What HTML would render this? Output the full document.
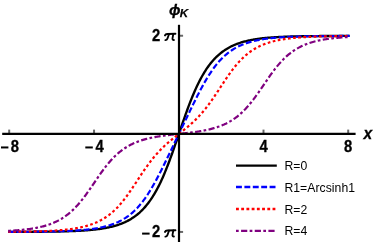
<!DOCTYPE html>
<html><head><meta charset="utf-8"><style>
html,body{margin:0;padding:0;background:#fff;}
body{width:374px;height:245px;overflow:hidden;position:relative;font-family:"Liberation Sans",sans-serif;}
svg{position:absolute;left:0;top:0;opacity:0.999;}
text{font-family:"Liberation Sans",sans-serif;}
</style></head><body>
<svg width="374" height="245" viewBox="0 0 374 245">
<path d="M8.15,231.88 L9.00,231.88 L9.86,231.87 L10.71,231.87 L11.56,231.87 L12.42,231.87 L13.27,231.87 L14.13,231.87 L14.98,231.86 L15.83,231.86 L16.69,231.86 L17.54,231.86 L18.39,231.85 L19.25,231.85 L20.10,231.85 L20.95,231.85 L21.81,231.84 L22.66,231.84 L23.52,231.84 L24.37,231.83 L25.22,231.83 L26.08,231.83 L26.93,231.82 L27.78,231.82 L28.64,231.81 L29.49,231.81 L30.34,231.81 L31.20,231.80 L32.05,231.80 L32.91,231.79 L33.76,231.79 L34.61,231.78 L35.47,231.77 L36.32,231.77 L37.17,231.76 L38.03,231.76 L38.88,231.75 L39.73,231.74 L40.59,231.74 L41.44,231.73 L42.29,231.72 L43.15,231.71 L44.00,231.70 L44.86,231.69 L45.71,231.69 L46.56,231.68 L47.42,231.67 L48.27,231.66 L49.12,231.64 L49.98,231.63 L50.83,231.62 L51.68,231.61 L52.54,231.60 L53.39,231.58 L54.25,231.57 L55.10,231.56 L55.95,231.54 L56.81,231.53 L57.66,231.51 L58.51,231.49 L59.37,231.47 L60.22,231.46 L61.07,231.44 L61.93,231.42 L62.78,231.40 L63.64,231.38 L64.49,231.35 L65.34,231.33 L66.20,231.31 L67.05,231.28 L67.90,231.25 L68.76,231.23 L69.61,231.20 L70.46,231.17 L71.32,231.14 L72.17,231.11 L73.03,231.07 L73.88,231.04 L74.73,231.00 L75.59,230.97 L76.44,230.93 L77.29,230.89 L78.15,230.84 L79.00,230.80 L79.85,230.75 L80.71,230.71 L81.56,230.66 L82.42,230.60 L83.27,230.55 L84.12,230.49 L84.98,230.43 L85.83,230.37 L86.68,230.31 L87.54,230.24 L88.39,230.18 L89.24,230.10 L90.10,230.03 L90.95,229.95 L91.81,229.87 L92.66,229.79 L93.51,229.70 L94.37,229.61 L95.22,229.51 L96.07,229.41 L96.93,229.31 L97.78,229.20 L98.63,229.09 L99.49,228.98 L100.34,228.86 L101.20,228.73 L102.05,228.60 L102.90,228.46 L103.76,228.32 L104.61,228.17 L105.46,228.02 L106.32,227.86 L107.17,227.69 L108.02,227.52 L108.88,227.34 L109.73,227.15 L110.58,226.95 L111.44,226.75 L112.29,226.54 L113.15,226.32 L114.00,226.09 L114.85,225.85 L115.71,225.60 L116.56,225.34 L117.41,225.07 L118.27,224.79 L119.12,224.50 L119.97,224.19 L120.83,223.87 L121.68,223.54 L122.54,223.20 L123.39,222.84 L124.24,222.47 L125.10,222.09 L125.95,221.68 L126.80,221.27 L127.66,220.83 L128.51,220.38 L129.36,219.91 L130.22,219.41 L131.07,218.90 L131.93,218.37 L132.78,217.82 L133.63,217.25 L134.49,216.65 L135.34,216.03 L136.19,215.38 L137.05,214.71 L137.90,214.01 L138.75,213.29 L139.61,212.54 L140.46,211.75 L141.32,210.94 L142.17,210.09 L143.02,209.22 L143.88,208.30 L144.73,207.36 L145.58,206.38 L146.44,205.36 L147.29,204.30 L148.14,203.20 L149.00,202.07 L149.85,200.89 L150.71,199.67 L151.56,198.40 L152.41,197.09 L153.27,195.74 L154.12,194.34 L154.97,192.89 L155.83,191.40 L156.68,189.85 L157.53,188.26 L158.39,186.61 L159.24,184.92 L160.10,183.18 L160.95,181.38 L161.80,179.53 L162.66,177.64 L163.51,175.69 L164.36,173.70 L165.22,171.65 L166.07,169.56 L166.92,167.43 L167.78,165.24 L168.63,163.02 L169.49,160.76 L170.34,158.45 L171.19,156.11 L172.05,153.74 L172.90,151.34 L173.75,148.91 L174.61,146.46 L175.46,143.98 L176.31,141.50 L177.17,139.00 L178.02,136.49 L178.88,133.97 L179.73,131.46 L180.58,128.95 L181.44,126.45 L182.29,123.96 L183.14,121.49 L184.00,119.03 L184.85,116.60 L185.70,114.20 L186.56,111.83 L187.41,109.48 L188.26,107.18 L189.12,104.91 L189.97,102.68 L190.83,100.50 L191.68,98.36 L192.53,96.27 L193.39,94.22 L194.24,92.22 L195.09,90.27 L195.95,88.37 L196.80,86.53 L197.65,84.73 L198.51,82.98 L199.36,81.28 L200.22,79.64 L201.07,78.04 L201.92,76.49 L202.78,74.99 L203.63,73.54 L204.48,72.14 L205.34,70.78 L206.19,69.47 L207.04,68.21 L207.90,66.98 L208.75,65.80 L209.61,64.66 L210.46,63.56 L211.31,62.50 L212.17,61.48 L213.02,60.50 L213.87,59.55 L214.73,58.64 L215.58,57.76 L216.43,56.91 L217.29,56.09 L218.14,55.31 L219.00,54.55 L219.85,53.83 L220.70,53.13 L221.56,52.46 L222.41,51.81 L223.26,51.19 L224.12,50.59 L224.97,50.01 L225.82,49.46 L226.68,48.93 L227.53,48.41 L228.39,47.92 L229.24,47.45 L230.09,47.00 L230.95,46.56 L231.80,46.14 L232.65,45.74 L233.51,45.35 L234.36,44.98 L235.21,44.62 L236.07,44.27 L236.92,43.94 L237.78,43.63 L238.63,43.32 L239.48,43.03 L240.34,42.75 L241.19,42.48 L242.04,42.22 L242.90,41.97 L243.75,41.73 L244.60,41.50 L245.46,41.28 L246.31,41.06 L247.17,40.86 L248.02,40.66 L248.87,40.47 L249.73,40.29 L250.58,40.12 L251.43,39.95 L252.29,39.79 L253.14,39.64 L253.99,39.49 L254.85,39.35 L255.70,39.21 L256.55,39.08 L257.41,38.95 L258.26,38.83 L259.12,38.71 L259.97,38.60 L260.82,38.50 L261.68,38.39 L262.53,38.29 L263.38,38.20 L264.24,38.11 L265.09,38.02 L265.94,37.93 L266.80,37.85 L267.65,37.78 L268.51,37.70 L269.36,37.63 L270.21,37.56 L271.07,37.49 L271.92,37.43 L272.77,37.37 L273.63,37.31 L274.48,37.25 L275.33,37.20 L276.19,37.15 L277.04,37.10 L277.90,37.05 L278.75,37.00 L279.60,36.96 L280.46,36.92 L281.31,36.88 L282.16,36.84 L283.02,36.80 L283.87,36.76 L284.72,36.73 L285.58,36.69 L286.43,36.66 L287.29,36.63 L288.14,36.60 L288.99,36.57 L289.85,36.55 L290.70,36.52 L291.55,36.50 L292.41,36.47 L293.26,36.45 L294.11,36.43 L294.97,36.40 L295.82,36.38 L296.68,36.36 L297.53,36.34 L298.38,36.33 L299.24,36.31 L300.09,36.29 L300.94,36.28 L301.80,36.26 L302.65,36.25 L303.50,36.23 L304.36,36.22 L305.21,36.20 L306.07,36.19 L306.92,36.18 L307.77,36.17 L308.63,36.16 L309.48,36.15 L310.33,36.13 L311.19,36.12 L312.04,36.12 L312.89,36.11 L313.75,36.10 L314.60,36.09 L315.45,36.08 L316.31,36.07 L317.16,36.07 L318.02,36.06 L318.87,36.05 L319.72,36.04 L320.58,36.04 L321.43,36.03 L322.28,36.03 L323.14,36.02 L323.99,36.01 L324.84,36.01 L325.70,36.00 L326.55,36.00 L327.41,36.00 L328.26,35.99 L329.11,35.99 L329.97,35.98 L330.82,35.98 L331.67,35.97 L332.53,35.97 L333.38,35.97 L334.23,35.96 L335.09,35.96 L335.94,35.96 L336.80,35.95 L337.65,35.95 L338.50,35.95 L339.36,35.95 L340.21,35.94 L341.06,35.94 L341.92,35.94 L342.77,35.94 L343.62,35.93 L344.48,35.93 L345.33,35.93 L346.19,35.93 L347.04,35.93 L347.89,35.93 L348.75,35.92 L349.60,35.92" fill="none" stroke="#000000" stroke-width="2.35"/>
<path d="M8.15,231.86 L9.00,231.86 L9.86,231.86 L10.71,231.85 L11.56,231.85 L12.42,231.85 L13.27,231.85 L14.13,231.84 L14.98,231.84 L15.83,231.84 L16.69,231.83 L17.54,231.83 L18.39,231.83 L19.25,231.82 L20.10,231.82 L20.95,231.82 L21.81,231.81 L22.66,231.81 L23.52,231.80 L24.37,231.80 L25.22,231.79 L26.08,231.79 L26.93,231.78 L27.78,231.78 L28.64,231.77 L29.49,231.76 L30.34,231.76 L31.20,231.75 L32.05,231.75 L32.91,231.74 L33.76,231.73 L34.61,231.72 L35.47,231.71 L36.32,231.71 L37.17,231.70 L38.03,231.69 L38.88,231.68 L39.73,231.67 L40.59,231.66 L41.44,231.65 L42.29,231.64 L43.15,231.63 L44.00,231.61 L44.86,231.60 L45.71,231.59 L46.56,231.58 L47.42,231.56 L48.27,231.55 L49.12,231.53 L49.98,231.52 L50.83,231.50 L51.68,231.48 L52.54,231.46 L53.39,231.45 L54.25,231.43 L55.10,231.41 L55.95,231.38 L56.81,231.36 L57.66,231.34 L58.51,231.32 L59.37,231.29 L60.22,231.27 L61.07,231.24 L61.93,231.21 L62.78,231.18 L63.64,231.15 L64.49,231.12 L65.34,231.09 L66.20,231.05 L67.05,231.02 L67.90,230.98 L68.76,230.94 L69.61,230.90 L70.46,230.86 L71.32,230.82 L72.17,230.77 L73.03,230.72 L73.88,230.68 L74.73,230.62 L75.59,230.57 L76.44,230.52 L77.29,230.46 L78.15,230.40 L79.00,230.34 L79.85,230.27 L80.71,230.20 L81.56,230.13 L82.42,230.06 L83.27,229.98 L84.12,229.90 L84.98,229.82 L85.83,229.73 L86.68,229.64 L87.54,229.55 L88.39,229.45 L89.24,229.35 L90.10,229.25 L90.95,229.14 L91.81,229.02 L92.66,228.90 L93.51,228.78 L94.37,228.65 L95.22,228.52 L96.07,228.38 L96.93,228.23 L97.78,228.08 L98.63,227.92 L99.49,227.76 L100.34,227.59 L101.20,227.41 L102.05,227.23 L102.90,227.04 L103.76,226.84 L104.61,226.63 L105.46,226.41 L106.32,226.19 L107.17,225.95 L108.02,225.71 L108.88,225.45 L109.73,225.19 L110.58,224.91 L111.44,224.63 L112.29,224.33 L113.15,224.02 L114.00,223.70 L114.85,223.36 L115.71,223.01 L116.56,222.65 L117.41,222.27 L118.27,221.88 L119.12,221.47 L119.97,221.05 L120.83,220.61 L121.68,220.15 L122.54,219.67 L123.39,219.18 L124.24,218.66 L125.10,218.13 L125.95,217.57 L126.80,217.00 L127.66,216.40 L128.51,215.78 L129.36,215.13 L130.22,214.47 L131.07,213.77 L131.93,213.05 L132.78,212.31 L133.63,211.54 L134.49,210.74 L135.34,209.91 L136.19,209.05 L137.05,208.17 L137.90,207.25 L138.75,206.30 L139.61,205.33 L140.46,204.32 L141.32,203.27 L142.17,202.20 L143.02,201.09 L143.88,199.95 L144.73,198.78 L145.58,197.58 L146.44,196.34 L147.29,195.07 L148.14,193.77 L149.00,192.43 L149.85,191.07 L150.71,189.67 L151.56,188.24 L152.41,186.79 L153.27,185.30 L154.12,183.79 L154.97,182.25 L155.83,180.69 L156.68,179.11 L157.53,177.50 L158.39,175.87 L159.24,174.22 L160.10,172.56 L160.95,170.88 L161.80,169.18 L162.66,167.47 L163.51,165.75 L164.36,164.02 L165.22,162.28 L166.07,160.53 L166.92,158.78 L167.78,157.02 L168.63,155.25 L169.49,153.49 L170.34,151.72 L171.19,149.94 L172.05,148.17 L172.90,146.39 L173.75,144.62 L174.61,142.84 L175.46,141.06 L176.31,139.28 L177.17,137.51 L178.02,135.73 L178.88,133.95 L179.73,132.17 L180.58,130.40 L181.44,128.62 L182.29,126.84 L183.14,125.06 L184.00,123.29 L184.85,121.51 L185.70,119.74 L186.56,117.96 L187.41,116.19 L188.26,114.42 L189.12,112.65 L189.97,110.88 L190.83,109.12 L191.68,107.37 L192.53,105.62 L193.39,103.88 L194.24,102.15 L195.09,100.43 L195.95,98.72 L196.80,97.02 L197.65,95.34 L198.51,93.67 L199.36,92.03 L200.22,90.40 L201.07,88.79 L201.92,87.20 L202.78,85.64 L203.63,84.10 L204.48,82.58 L205.34,81.10 L206.19,79.64 L207.04,78.21 L207.90,76.81 L208.75,75.45 L209.61,74.11 L210.46,72.81 L211.31,71.53 L212.17,70.29 L213.02,69.09 L213.87,67.91 L214.73,66.77 L215.58,65.66 L216.43,64.59 L217.29,63.54 L218.14,62.53 L219.00,61.55 L219.85,60.60 L220.70,59.69 L221.56,58.80 L222.41,57.94 L223.26,57.11 L224.12,56.31 L224.97,55.54 L225.82,54.79 L226.68,54.07 L227.53,53.37 L228.39,52.71 L229.24,52.06 L230.09,51.44 L230.95,50.84 L231.80,50.26 L232.65,49.70 L233.51,49.17 L234.36,48.65 L235.21,48.16 L236.07,47.68 L236.92,47.22 L237.78,46.78 L238.63,46.35 L239.48,45.95 L240.34,45.55 L241.19,45.17 L242.04,44.81 L242.90,44.46 L243.75,44.12 L244.60,43.80 L245.46,43.49 L246.31,43.19 L247.17,42.90 L248.02,42.63 L248.87,42.36 L249.73,42.11 L250.58,41.86 L251.43,41.63 L252.29,41.40 L253.14,41.19 L253.99,40.98 L254.85,40.78 L255.70,40.58 L256.55,40.40 L257.41,40.22 L258.26,40.05 L259.12,39.88 L259.97,39.73 L260.82,39.58 L261.68,39.43 L262.53,39.29 L263.38,39.16 L264.24,39.03 L265.09,38.90 L265.94,38.78 L266.80,38.67 L267.65,38.56 L268.51,38.45 L269.36,38.35 L270.21,38.25 L271.07,38.16 L271.92,38.07 L272.77,37.98 L273.63,37.90 L274.48,37.82 L275.33,37.75 L276.19,37.67 L277.04,37.60 L277.90,37.53 L278.75,37.47 L279.60,37.41 L280.46,37.35 L281.31,37.29 L282.16,37.23 L283.02,37.18 L283.87,37.13 L284.72,37.08 L285.58,37.03 L286.43,36.99 L287.29,36.94 L288.14,36.90 L288.99,36.86 L289.85,36.82 L290.70,36.78 L291.55,36.75 L292.41,36.71 L293.26,36.68 L294.11,36.65 L294.97,36.62 L295.82,36.59 L296.68,36.56 L297.53,36.54 L298.38,36.51 L299.24,36.49 L300.09,36.46 L300.94,36.44 L301.80,36.42 L302.65,36.40 L303.50,36.38 L304.36,36.36 L305.21,36.34 L306.07,36.32 L306.92,36.30 L307.77,36.29 L308.63,36.27 L309.48,36.25 L310.33,36.24 L311.19,36.23 L312.04,36.21 L312.89,36.20 L313.75,36.19 L314.60,36.17 L315.45,36.16 L316.31,36.15 L317.16,36.14 L318.02,36.13 L318.87,36.12 L319.72,36.11 L320.58,36.10 L321.43,36.09 L322.28,36.09 L323.14,36.08 L323.99,36.07 L324.84,36.06 L325.70,36.06 L326.55,36.05 L327.41,36.04 L328.26,36.04 L329.11,36.03 L329.97,36.02 L330.82,36.02 L331.67,36.01 L332.53,36.01 L333.38,36.00 L334.23,36.00 L335.09,35.99 L335.94,35.99 L336.80,35.98 L337.65,35.98 L338.50,35.98 L339.36,35.97 L340.21,35.97 L341.06,35.97 L341.92,35.96 L342.77,35.96 L343.62,35.96 L344.48,35.95 L345.33,35.95 L346.19,35.95 L347.04,35.95 L347.89,35.94 L348.75,35.94 L349.60,35.94" fill="none" stroke="#0000ff" stroke-width="2.2" stroke-dasharray="5.9,2.5"/>
<path d="M8.15,231.77 L9.00,231.76 L9.86,231.76 L10.71,231.75 L11.56,231.74 L12.42,231.74 L13.27,231.73 L14.13,231.72 L14.98,231.71 L15.83,231.70 L16.69,231.70 L17.54,231.69 L18.39,231.68 L19.25,231.67 L20.10,231.66 L20.95,231.65 L21.81,231.63 L22.66,231.62 L23.52,231.61 L24.37,231.60 L25.22,231.59 L26.08,231.57 L26.93,231.56 L27.78,231.54 L28.64,231.53 L29.49,231.51 L30.34,231.49 L31.20,231.48 L32.05,231.46 L32.91,231.44 L33.76,231.42 L34.61,231.40 L35.47,231.38 L36.32,231.36 L37.17,231.33 L38.03,231.31 L38.88,231.28 L39.73,231.26 L40.59,231.23 L41.44,231.20 L42.29,231.17 L43.15,231.14 L44.00,231.11 L44.86,231.08 L45.71,231.04 L46.56,231.01 L47.42,230.97 L48.27,230.93 L49.12,230.89 L49.98,230.85 L50.83,230.80 L51.68,230.76 L52.54,230.71 L53.39,230.66 L54.25,230.61 L55.10,230.56 L55.95,230.50 L56.81,230.44 L57.66,230.38 L58.51,230.32 L59.37,230.25 L60.22,230.18 L61.07,230.11 L61.93,230.04 L62.78,229.96 L63.64,229.88 L64.49,229.80 L65.34,229.71 L66.20,229.62 L67.05,229.52 L67.90,229.43 L68.76,229.32 L69.61,229.22 L70.46,229.11 L71.32,228.99 L72.17,228.87 L73.03,228.75 L73.88,228.62 L74.73,228.48 L75.59,228.34 L76.44,228.19 L77.29,228.04 L78.15,227.88 L79.00,227.71 L79.85,227.54 L80.71,227.36 L81.56,227.18 L82.42,226.98 L83.27,226.78 L84.12,226.57 L84.98,226.35 L85.83,226.12 L86.68,225.89 L87.54,225.64 L88.39,225.38 L89.24,225.12 L90.10,224.84 L90.95,224.55 L91.81,224.25 L92.66,223.94 L93.51,223.62 L94.37,223.28 L95.22,222.93 L96.07,222.56 L96.93,222.18 L97.78,221.79 L98.63,221.38 L99.49,220.96 L100.34,220.52 L101.20,220.06 L102.05,219.58 L102.90,219.09 L103.76,218.58 L104.61,218.04 L105.46,217.49 L106.32,216.92 L107.17,216.33 L108.02,215.71 L108.88,215.08 L109.73,214.42 L110.58,213.73 L111.44,213.03 L112.29,212.30 L113.15,211.54 L114.00,210.77 L114.85,209.96 L115.71,209.13 L116.56,208.28 L117.41,207.39 L118.27,206.49 L119.12,205.55 L119.97,204.59 L120.83,203.61 L121.68,202.60 L122.54,201.56 L123.39,200.50 L124.24,199.41 L125.10,198.30 L125.95,197.17 L126.80,196.02 L127.66,194.84 L128.51,193.65 L129.36,192.43 L130.22,191.20 L131.07,189.96 L131.93,188.70 L132.78,187.43 L133.63,186.15 L134.49,184.86 L135.34,183.56 L136.19,182.26 L137.05,180.96 L137.90,179.66 L138.75,178.35 L139.61,177.06 L140.46,175.76 L141.32,174.47 L142.17,173.20 L143.02,171.93 L143.88,170.67 L144.73,169.43 L145.58,168.20 L146.44,166.99 L147.29,165.79 L148.14,164.61 L149.00,163.46 L149.85,162.32 L150.71,161.20 L151.56,160.10 L152.41,159.02 L153.27,157.96 L154.12,156.92 L154.97,155.91 L155.83,154.91 L156.68,153.94 L157.53,152.99 L158.39,152.05 L159.24,151.14 L160.10,150.24 L160.95,149.37 L161.80,148.51 L162.66,147.67 L163.51,146.84 L164.36,146.04 L165.22,145.24 L166.07,144.46 L166.92,143.70 L167.78,142.95 L168.63,142.21 L169.49,141.48 L170.34,140.76 L171.19,140.05 L172.05,139.35 L172.90,138.65 L173.75,137.96 L174.61,137.28 L175.46,136.60 L176.31,135.93 L177.17,135.26 L178.02,134.59 L178.88,133.92 L179.73,133.25 L180.58,132.58 L181.44,131.91 L182.29,131.24 L183.14,130.56 L184.00,129.88 L184.85,129.19 L185.70,128.50 L186.56,127.79 L187.41,127.08 L188.26,126.37 L189.12,125.64 L189.97,124.90 L190.83,124.14 L191.68,123.38 L192.53,122.60 L193.39,121.81 L194.24,121.00 L195.09,120.18 L195.95,119.34 L196.80,118.48 L197.65,117.61 L198.51,116.71 L199.36,115.80 L200.22,114.87 L201.07,113.92 L201.92,112.94 L202.78,111.95 L203.63,110.94 L204.48,109.90 L205.34,108.84 L206.19,107.77 L207.04,106.67 L207.90,105.55 L208.75,104.41 L209.61,103.25 L210.46,102.08 L211.31,100.88 L212.17,99.67 L213.02,98.44 L213.87,97.20 L214.73,95.95 L215.58,94.68 L216.43,93.40 L217.29,92.11 L218.14,90.82 L219.00,89.52 L219.85,88.22 L220.70,86.92 L221.56,85.61 L222.41,84.31 L223.26,83.02 L224.12,81.73 L224.97,80.44 L225.82,79.17 L226.68,77.91 L227.53,76.67 L228.39,75.44 L229.24,74.22 L230.09,73.03 L230.95,71.85 L231.80,70.70 L232.65,69.56 L233.51,68.45 L234.36,67.37 L235.21,66.30 L236.07,65.26 L236.92,64.25 L237.78,63.26 L238.63,62.30 L239.48,61.37 L240.34,60.46 L241.19,59.58 L242.04,58.72 L242.90,57.89 L243.75,57.08 L244.60,56.30 L245.46,55.54 L246.31,54.81 L247.17,54.11 L248.02,53.42 L248.87,52.76 L249.73,52.12 L250.58,51.51 L251.43,50.91 L252.29,50.34 L253.14,49.79 L253.99,49.26 L254.85,48.74 L255.70,48.25 L256.55,47.77 L257.41,47.31 L258.26,46.87 L259.12,46.44 L259.97,46.03 L260.82,45.64 L261.68,45.26 L262.53,44.89 L263.38,44.54 L264.24,44.20 L265.09,43.88 L265.94,43.57 L266.80,43.27 L267.65,42.98 L268.51,42.70 L269.36,42.43 L270.21,42.17 L271.07,41.93 L271.92,41.69 L272.77,41.46 L273.63,41.24 L274.48,41.03 L275.33,40.83 L276.19,40.63 L277.04,40.45 L277.90,40.27 L278.75,40.10 L279.60,39.93 L280.46,39.77 L281.31,39.62 L282.16,39.47 L283.02,39.33 L283.87,39.19 L284.72,39.06 L285.58,38.94 L286.43,38.82 L287.29,38.70 L288.14,38.59 L288.99,38.48 L289.85,38.38 L290.70,38.28 L291.55,38.19 L292.41,38.10 L293.26,38.01 L294.11,37.92 L294.97,37.84 L295.82,37.77 L296.68,37.69 L297.53,37.62 L298.38,37.55 L299.24,37.49 L300.09,37.42 L300.94,37.36 L301.80,37.30 L302.65,37.25 L303.50,37.19 L304.36,37.14 L305.21,37.09 L306.07,37.04 L306.92,37.00 L307.77,36.95 L308.63,36.91 L309.48,36.87 L310.33,36.83 L311.19,36.80 L312.04,36.76 L312.89,36.72 L313.75,36.69 L314.60,36.66 L315.45,36.63 L316.31,36.60 L317.16,36.57 L318.02,36.54 L318.87,36.52 L319.72,36.49 L320.58,36.47 L321.43,36.45 L322.28,36.42 L323.14,36.40 L323.99,36.38 L324.84,36.36 L325.70,36.34 L326.55,36.32 L327.41,36.31 L328.26,36.29 L329.11,36.27 L329.97,36.26 L330.82,36.24 L331.67,36.23 L332.53,36.22 L333.38,36.20 L334.23,36.19 L335.09,36.18 L335.94,36.17 L336.80,36.15 L337.65,36.14 L338.50,36.13 L339.36,36.12 L340.21,36.11 L341.06,36.11 L341.92,36.10 L342.77,36.09 L343.62,36.08 L344.48,36.07 L345.33,36.06 L346.19,36.06 L347.04,36.05 L347.89,36.04 L348.75,36.04 L349.60,36.03" fill="none" stroke="#ff0000" stroke-width="2.2" stroke-dasharray="2.7,2.465"/>
<path d="M8.15,230.84 L9.00,230.79 L9.86,230.75 L10.71,230.70 L11.56,230.65 L12.42,230.60 L13.27,230.54 L14.13,230.49 L14.98,230.43 L15.83,230.37 L16.69,230.30 L17.54,230.24 L18.39,230.17 L19.25,230.10 L20.10,230.02 L20.95,229.94 L21.81,229.86 L22.66,229.78 L23.52,229.69 L24.37,229.60 L25.22,229.50 L26.08,229.41 L26.93,229.30 L27.78,229.19 L28.64,229.08 L29.49,228.97 L30.34,228.85 L31.20,228.72 L32.05,228.59 L32.91,228.45 L33.76,228.31 L34.61,228.16 L35.47,228.01 L36.32,227.85 L37.17,227.68 L38.03,227.51 L38.88,227.33 L39.73,227.14 L40.59,226.94 L41.44,226.74 L42.29,226.53 L43.15,226.31 L44.00,226.08 L44.86,225.84 L45.71,225.59 L46.56,225.33 L47.42,225.06 L48.27,224.78 L49.12,224.49 L49.98,224.19 L50.83,223.88 L51.68,223.55 L52.54,223.21 L53.39,222.86 L54.25,222.49 L55.10,222.11 L55.95,221.71 L56.81,221.30 L57.66,220.87 L58.51,220.43 L59.37,219.97 L60.22,219.49 L61.07,218.99 L61.93,218.48 L62.78,217.94 L63.64,217.39 L64.49,216.82 L65.34,216.22 L66.20,215.60 L67.05,214.96 L67.90,214.30 L68.76,213.62 L69.61,212.91 L70.46,212.18 L71.32,211.43 L72.17,210.65 L73.03,209.84 L73.88,209.01 L74.73,208.16 L75.59,207.28 L76.44,206.37 L77.29,205.44 L78.15,204.48 L79.00,203.50 L79.85,202.50 L80.71,201.47 L81.56,200.42 L82.42,199.34 L83.27,198.24 L84.12,197.12 L84.98,195.99 L85.83,194.83 L86.68,193.65 L87.54,192.46 L88.39,191.26 L89.24,190.04 L90.10,188.81 L90.95,187.57 L91.81,186.32 L92.66,185.07 L93.51,183.81 L94.37,182.55 L95.22,181.30 L96.07,180.04 L96.93,178.79 L97.78,177.55 L98.63,176.31 L99.49,175.09 L100.34,173.88 L101.20,172.68 L102.05,171.49 L102.90,170.33 L103.76,169.18 L104.61,168.05 L105.46,166.94 L106.32,165.85 L107.17,164.79 L108.02,163.75 L108.88,162.73 L109.73,161.74 L110.58,160.77 L111.44,159.82 L112.29,158.91 L113.15,158.01 L114.00,157.14 L114.85,156.30 L115.71,155.48 L116.56,154.69 L117.41,153.92 L118.27,153.17 L119.12,152.45 L119.97,151.76 L120.83,151.08 L121.68,150.43 L122.54,149.80 L123.39,149.19 L124.24,148.60 L125.10,148.04 L125.95,147.49 L126.80,146.96 L127.66,146.45 L128.51,145.96 L129.36,145.49 L130.22,145.03 L131.07,144.59 L131.93,144.17 L132.78,143.76 L133.63,143.37 L134.49,142.99 L135.34,142.62 L136.19,142.27 L137.05,141.93 L137.90,141.61 L138.75,141.29 L139.61,140.99 L140.46,140.70 L141.32,140.41 L142.17,140.14 L143.02,139.88 L143.88,139.63 L144.73,139.39 L145.58,139.15 L146.44,138.93 L147.29,138.71 L148.14,138.50 L149.00,138.30 L149.85,138.10 L150.71,137.91 L151.56,137.73 L152.41,137.56 L153.27,137.39 L154.12,137.22 L154.97,137.06 L155.83,136.91 L156.68,136.76 L157.53,136.61 L158.39,136.47 L159.24,136.34 L160.10,136.20 L160.95,136.07 L161.80,135.95 L162.66,135.83 L163.51,135.71 L164.36,135.59 L165.22,135.48 L166.07,135.37 L166.92,135.26 L167.78,135.16 L168.63,135.05 L169.49,134.95 L170.34,134.85 L171.19,134.75 L172.05,134.65 L172.90,134.56 L173.75,134.46 L174.61,134.37 L175.46,134.27 L176.31,134.18 L177.17,134.09 L178.02,133.99 L178.88,133.90 L179.73,133.81 L180.58,133.72 L181.44,133.63 L182.29,133.53 L183.14,133.44 L184.00,133.35 L184.85,133.25 L185.70,133.15 L186.56,133.06 L187.41,132.96 L188.26,132.86 L189.12,132.76 L189.97,132.65 L190.83,132.55 L191.68,132.44 L192.53,132.33 L193.39,132.21 L194.24,132.10 L195.09,131.98 L195.95,131.86 L196.80,131.73 L197.65,131.60 L198.51,131.47 L199.36,131.34 L200.22,131.20 L201.07,131.05 L201.92,130.90 L202.78,130.75 L203.63,130.59 L204.48,130.42 L205.34,130.25 L206.19,130.08 L207.04,129.90 L207.90,129.71 L208.75,129.51 L209.61,129.31 L210.46,129.10 L211.31,128.88 L212.17,128.66 L213.02,128.43 L213.87,128.18 L214.73,127.93 L215.58,127.67 L216.43,127.40 L217.29,127.12 L218.14,126.83 L219.00,126.53 L219.85,126.21 L220.70,125.89 L221.56,125.55 L222.41,125.20 L223.26,124.83 L224.12,124.46 L224.97,124.06 L225.82,123.66 L226.68,123.23 L227.53,122.79 L228.39,122.34 L229.24,121.87 L230.09,121.38 L230.95,120.87 L231.80,120.34 L232.65,119.80 L233.51,119.23 L234.36,118.64 L235.21,118.04 L236.07,117.41 L236.92,116.76 L237.78,116.08 L238.63,115.39 L239.48,114.67 L240.34,113.92 L241.19,113.16 L242.04,112.37 L242.90,111.55 L243.75,110.71 L244.60,109.84 L245.46,108.95 L246.31,108.03 L247.17,107.09 L248.02,106.12 L248.87,105.13 L249.73,104.11 L250.58,103.07 L251.43,102.01 L252.29,100.92 L253.14,99.81 L253.99,98.69 L254.85,97.54 L255.70,96.37 L256.55,95.19 L257.41,93.99 L258.26,92.78 L259.12,91.56 L259.97,90.32 L260.82,89.08 L261.68,87.83 L262.53,86.58 L263.38,85.32 L264.24,84.06 L265.09,82.81 L265.94,81.55 L266.80,80.31 L267.65,79.07 L268.51,77.83 L269.36,76.61 L270.21,75.41 L271.07,74.22 L271.92,73.04 L272.77,71.88 L273.63,70.74 L274.48,69.62 L275.33,68.52 L276.19,67.45 L277.04,66.39 L277.90,65.36 L278.75,64.35 L279.60,63.37 L280.46,62.41 L281.31,61.48 L282.16,60.58 L283.02,59.69 L283.87,58.84 L284.72,58.01 L285.58,57.20 L286.43,56.42 L287.29,55.66 L288.14,54.93 L288.99,54.22 L289.85,53.54 L290.70,52.87 L291.55,52.23 L292.41,51.62 L293.26,51.02 L294.11,50.44 L294.97,49.89 L295.82,49.35 L296.68,48.84 L297.53,48.34 L298.38,47.86 L299.24,47.40 L300.09,46.95 L300.94,46.52 L301.80,46.11 L302.65,45.71 L303.50,45.33 L304.36,44.96 L305.21,44.61 L306.07,44.27 L306.92,43.94 L307.77,43.63 L308.63,43.32 L309.48,43.03 L310.33,42.75 L311.19,42.48 L312.04,42.22 L312.89,41.98 L313.75,41.74 L314.60,41.51 L315.45,41.29 L316.31,41.07 L317.16,40.87 L318.02,40.67 L318.87,40.48 L319.72,40.30 L320.58,40.13 L321.43,39.96 L322.28,39.80 L323.14,39.65 L323.99,39.50 L324.84,39.36 L325.70,39.22 L326.55,39.09 L327.41,38.96 L328.26,38.84 L329.11,38.72 L329.97,38.61 L330.82,38.50 L331.67,38.40 L332.53,38.30 L333.38,38.21 L334.23,38.11 L335.09,38.03 L335.94,37.94 L336.80,37.86 L337.65,37.78 L338.50,37.71 L339.36,37.64 L340.21,37.57 L341.06,37.50 L341.92,37.44 L342.77,37.37 L343.62,37.32 L344.48,37.26 L345.33,37.20 L346.19,37.15 L347.04,37.10 L347.89,37.05 L348.75,37.01 L349.60,36.96" fill="none" stroke="#800080" stroke-width="2.2" stroke-dasharray="2.7,2.38,6.2,2.38"/>
<g stroke="#000" stroke-width="2.2" fill="none">
<line x1="2.2" y1="133.95" x2="355.6" y2="133.95"/>
<line x1="179.0" y1="24.8" x2="179.0" y2="242"/>
</g>
<g stroke="#000" stroke-width="2" fill="none" opacity="0.6">
<line x1="9.2" y1="129.6" x2="9.2" y2="133"/>
<line x1="94.05" y1="129.6" x2="94.05" y2="133"/>
<line x1="263.5" y1="129.6" x2="263.5" y2="133"/>
<line x1="348.2" y1="129.6" x2="348.2" y2="133"/>
<line x1="180" y1="35.73" x2="183.1" y2="35.73"/>
<line x1="180" y1="231.93" x2="183.1" y2="231.93"/>
</g>
<g font-weight="bold" fill="#000" style="filter:grayscale(1)">
<rect x="1.0" y="146.45" width="7.4" height="2.0" fill="#000"/>
<text transform="translate(10.7,151.5) scale(0.95,1)" font-size="15.6" stroke="#000" stroke-width="0.3">8</text>
<rect x="85.3" y="146.45" width="7.5" height="2.0" fill="#000"/>
<text transform="translate(95.4,151.5) scale(0.95,1)" font-size="15.6" stroke="#000" stroke-width="0.3">4</text>
<text transform="translate(259.6,151.5) scale(0.95,1)" font-size="15.6" stroke="#000" stroke-width="0.3">4</text>
<text transform="translate(343.9,151.5) scale(0.95,1)" font-size="15.6" stroke="#000" stroke-width="0.3">8</text>
<text transform="translate(152.0,40.6) scale(0.95,1)" font-size="15.6" stroke="#000" stroke-width="0.3">2</text>
<text transform="translate(152.0,237.2) scale(0.95,1)" font-size="15.6" stroke="#000" stroke-width="0.3">2</text>
<rect x="142.1" y="232.6" width="7.5" height="2.0" fill="#000"/>
<g transform="translate(0,0)" fill="none" stroke="#000" stroke-linecap="round" stroke-linejoin="round">
<path d="M165.0,35.4 Q165.6,34.0 167.2,33.9 L175.4,33.7" stroke-width="2.0"/>
<path d="M169.1,34 L167.4,38.6 Q166.9,40.0 165.4,40.1" stroke-width="1.85"/>
<path d="M173.3,34 L172.5,38.4 Q172.3,40.1 173.9,40.0" stroke-width="1.85"/>
</g>
<g transform="translate(0,196.5)" fill="none" stroke="#000" stroke-linecap="round" stroke-linejoin="round">
<path d="M165.0,35.4 Q165.6,34.0 167.2,33.9 L175.4,33.7" stroke-width="2.0"/>
<path d="M169.1,34 L167.4,38.6 Q166.9,40.0 165.4,40.1" stroke-width="1.85"/>
<path d="M173.3,34 L172.5,38.4 Q172.3,40.1 173.9,40.0" stroke-width="1.85"/>
</g>
<text x="363.6" y="139.1" font-size="15.6" font-style="italic" stroke="#000" stroke-width="0.3">x</text>
<text x="169.1" y="14.6" font-size="15.2" font-style="italic" stroke="#000" stroke-width="0.3">ϕ</text>
<text x="179.8" y="17.05" font-size="11.6" font-style="italic" stroke="#000" stroke-width="0.25">K</text>
</g>
<g stroke-width="2.3" fill="none">
<line x1="236.0" y1="165.6" x2="276.8" y2="165.6" stroke="#000"/>
<line x1="236.0" y1="187.0" x2="276.8" y2="187.0" stroke="#0000ff" stroke-dasharray="5.9,2.5"/>
<line x1="236.0" y1="209.0" x2="276.8" y2="209.0" stroke="#ff0000" stroke-dasharray="2.85,2.37"/>
<line x1="236.0" y1="230.8" x2="276.8" y2="230.8" stroke="#800080" stroke-dasharray="2.7,2.38,6.2,2.38"/>
</g>
<g font-size="12.2" letter-spacing="0.05" fill="#000" style="filter:grayscale(1)">
<text x="284.4" y="170.15">R=0</text>
<text x="284.4" y="191.55">R1=Arcsinh1</text>
<text x="284.4" y="213.55">R=2</text>
<text x="284.4" y="235.35000000000002">R=4</text>
</g>
</svg>
</body></html>
